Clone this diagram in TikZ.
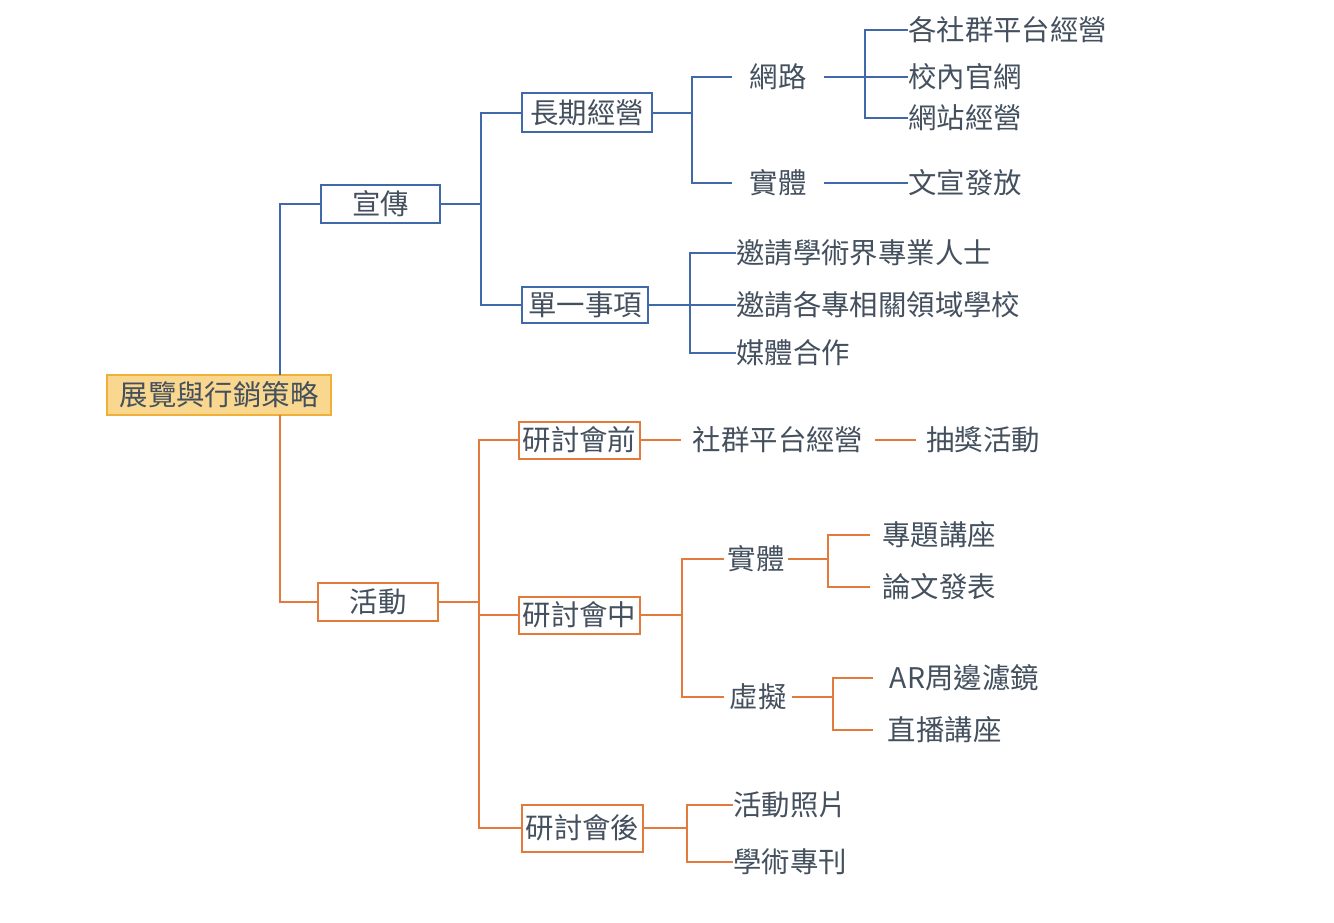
\documentclass[tikz,border=0pt]{standalone}
\usepackage{fontspec}
\setmainfont{Noto Sans CJK TC}
\definecolor{blu}{HTML}{4169AA}
\definecolor{org}{HTML}{E27A3C}
\definecolor{rootf}{HTML}{F9D78E}
\definecolor{rootb}{HTML}{EFB03A}
\definecolor{txt}{HTML}{44505E}
\begin{document}
\begin{tikzpicture}[x=0.75pt,y=-0.75pt,
  every node/.style={font=\fontsize{21.3}{25}\selectfont, text=txt},
  framebox/.style={draw, line width=1.5pt, fill=white, inner sep=0pt},
  bluebox/.style={framebox, draw=blu},
  orangebox/.style={framebox, draw=org},
  rootbox/.style={framebox, draw=rootb, fill=rootf},
  midnode/.style={inner ysep=2pt},
  leafnode/.style={anchor=west, inner ysep=2pt, inner xsep=0pt},
  blueline/.style={draw=blu, line width=1.5pt},
  orangeline/.style={draw=org, line width=1.5pt}]
\useasboundingbox (0,0) rectangle (1334,923);

% boxed nodes
\node[rootbox, minimum width=168pt, minimum height=30pt] (root) at (219,395) {展覽與行銷策略};
\node[bluebox, minimum width=89.25pt, minimum height=28.5pt] (xc) at (380.5,204) {宣傳};
\node[orangebox, minimum width=90pt, minimum height=28.5pt] (hd) at (378,602) {活動};
\node[bluebox, minimum width=97.5pt, minimum height=29.25pt] (cq) at (587,113) {長期經營};
\node[bluebox, minimum width=94.5pt, minimum height=27pt] (dy) at (585,305) {單一事項};
\node[orangebox, minimum width=90.75pt, minimum height=27.75pt] (qian) at (579.5,440) {研討會前};
\node[orangebox, minimum width=90.75pt, minimum height=27.75pt] (zhong) at (579.5,615) {研討會中};
\node[orangebox, minimum width=90.75pt, minimum height=35.25pt] (hou) at (582.5,828) {研討會後};

% middle nodes
\node[midnode, inner xsep=13pt] (wl) at (778,77) {網路};
\node[midnode, inner xsep=13pt] (st1) at (778,183) {實體};
\node[midnode, inner xsep=2.5pt] (st2) at (756,559) {實體};
\node[midnode, inner xsep=4pt] (xn) at (758,697) {虛擬};
\node[midnode, inner xsep=9pt] (sq) at (778,440) {社群平台經營};
\node[midnode, inner xsep=7.5pt] (cj) at (983,440) {抽獎活動};

% leaves
\node[leafnode] (l1) at (908,30) {各社群平台經營};
\node[leafnode] (l2) at (908,77) {校內官網};
\node[leafnode] (l3) at (908,118) {網站經營};
\node[leafnode] (l4) at (908,183) {文宣發放};
\node[leafnode] (m1) at (736,253) {邀請學術界專業人士};
\node[leafnode] (m2) at (736,305) {邀請各專相關領域學校};
\node[leafnode] (m3) at (736,353) {媒體合作};
\node[leafnode, inner xsep=9pt] (p1) at (870,535) {專題講座};
\node[leafnode, inner xsep=9pt] (p2) at (870,587) {論文發表};
\node[leafnode, inner xsep=12.5pt] (q1) at (873,678) {AR周邊濾鏡};
\node[leafnode, inner xsep=11pt] (q2) at (873,730) {直播講座};
\node[leafnode] (r1) at (733,805) {活動照片};
\node[leafnode] (r2) at (733,862) {學術專刊};

% junctions
\coordinate (rt) at (280,375);
\coordinate (rb) at (280,415);
\coordinate (j1) at (481,204);
\coordinate (j2) at (692,113);
\coordinate (j3) at (865,77);
\coordinate (j4) at (690,305);
\coordinate (k1) at (479,602);
\coordinate (k2) at (682,615);
\coordinate (k3) at (828,559);
\coordinate (k4) at (833,697);
\coordinate (k5) at (687,828);

% blue connectors
\draw[blueline] (rt) |- (xc.west);
\draw[blueline] (xc.east) -- (j1);
\draw[blueline] (cq.west) -| (j1) |- (dy.west);
\draw[blueline] (cq.east) -- (j2);
\draw[blueline] (wl.west) -| (j2) |- (st1.west);
\draw[blueline] (wl.east) -- (j3);
\draw[blueline] (l1.west) -| (j3) |- (l3.west);
\draw[blueline] (j3) -- (l2.west);
\draw[blueline] (st1.east) -- (l4.west);
\draw[blueline] (dy.east) -- (j4);
\draw[blueline] (m1.west) -| (j4) |- (m3.west);
\draw[blueline] (j4) -- (m2.west);

% orange connectors
\draw[orangeline] (rb) |- (hd.west);
\draw[orangeline] (hd.east) -- (k1);
\draw[orangeline] (qian.west) -| (k1) |- (hou.west);
\draw[orangeline] (k1 |- zhong.west) -- (zhong.west);
\draw[orangeline] (qian.east) -- (sq.west);
\draw[orangeline] (sq.east) -- (cj.west);
\draw[orangeline] (zhong.east) -- (k2);
\draw[orangeline] (st2.west) -| (k2) |- (xn.west);
\draw[orangeline] (st2.east) -- (k3);
\draw[orangeline] (p1.west) -| (k3) |- (p2.west);
\draw[orangeline] (xn.east) -- (k4);
\draw[orangeline] (q1.west) -| (k4) |- (q2.west);
\draw[orangeline] (hou.east) -- (k5);
\draw[orangeline] (r1.west) -| (k5) |- (r2.west);
\end{tikzpicture}
\end{document}
